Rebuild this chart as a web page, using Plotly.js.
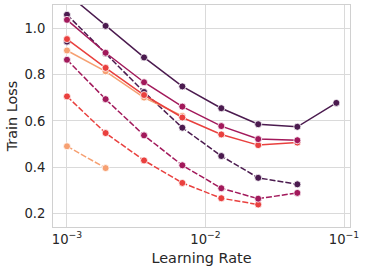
<!DOCTYPE html>
<html>
<head>
<meta charset="utf-8">
<script src="https://cdn.plot.ly/plotly-3.0.1.min.js"></script>
<style>html,body{margin:0;padding:0;background:#fff;}#chart{width:366px;height:272px;}</style>
</head>
<body>
<div id="chart"></div>
<script>
// learning rates
const lr = [0.001, 0.0019, 0.0036, 0.0068, 0.013, 0.024, 0.046, 0.088];

// solid-line series
const solidDark    = [1.15, 1.01, 0.874, 0.749, 0.655, 0.586, 0.575, 0.678];
const solidMagenta = [1.036, 0.894, 0.767, 0.662, 0.578, 0.522, 0.517];
const solidRed     = [0.953, 0.829, 0.712, 0.615, 0.542, 0.496, 0.507];
const solidPeach   = [0.904, 0.814, 0.701, 0.622];

// dashed-line series
const dashDark    = [1.058, 0.891, 0.725, 0.571, 0.449, 0.355, 0.327];
const dashMagenta = [0.864, 0.694, 0.538, 0.409, 0.31, 0.265, 0.29];
const dashRed     = [0.706, 0.548, 0.43, 0.333, 0.267, 0.24];
const dashPeach   = [0.491, 0.397];

// lone point at lowest learning rate
const extraDark = [0.942];

const cDark = '#4b1b4f', cMag = '#a2195b', cRed = '#e9403e', cPeach = '#f6a072';

function tr(y, color, dash) {
  return {
    x: lr.slice(0, y.length), y: y, type: 'scatter', mode: 'lines+markers',
    line: {color: color, width: 1.5, dash: dash},
    marker: {color: color, size: 7, line: {color: '#ffffff', width: 0.8}},
    showlegend: false, hoverinfo: 'skip'
  };
}

const data = [
  tr(extraDark, cDark, 'solid'),
  tr(dashPeach, cPeach, '6px,2px'),
  tr(dashRed, cRed, '6px,2px'),
  tr(dashMagenta, cMag, '6px,2px'),
  tr(dashDark, cDark, '6px,2px'),
  tr(solidPeach, cPeach, 'solid'),
  tr(solidRed, cRed, 'solid'),
  tr(solidMagenta, cMag, 'solid'),
  tr(solidDark, cDark, 'solid')
];

const layout = {
  width: 366, height: 272,
  margin: {l: 53, r: 16, t: 5, b: 45},
  paper_bgcolor: '#ffffff', plot_bgcolor: '#ffffff',
  font: {family: 'DejaVu Sans', size: 13, color: '#262626'},
  xaxis: {
    type: 'log', range: [-3.101, -0.957],
    tickvals: [0.001, 0.01, 0.1],
    ticktext: ['10<sup>−3</sup>', '10<sup>−2</sup>', '10<sup>−1</sup>'],
    showgrid: true, gridcolor: '#dadada', gridwidth: 1,
    showline: true, linecolor: '#d0d0d0', linewidth: 1, mirror: true,
    ticks: '', zeroline: false, ticklen: 0,
    tickfont: {size: 13.2, color: '#262626'},
    title: {text: 'Learning Rate', font: {size: 14.4, color: '#262626'}, standoff: 7}
  },
  yaxis: {
    range: [0.143, 1.1],
    tickvals: [0.2, 0.4, 0.6, 0.8, 1.0],
    ticktext: ['0.2', '0.4', '0.6', '0.8', '1.0'],
    showgrid: true, gridcolor: '#dadada', gridwidth: 1,
    showline: true, linecolor: '#d0d0d0', linewidth: 1, mirror: true,
    ticks: '', zeroline: false, ticklabelstandoff: 4,
    tickfont: {size: 13.2, color: '#262626'},
    title: {text: 'Train Loss', font: {size: 14.4, color: '#262626'}, standoff: 3}
  }
};

Plotly.newPlot('chart', data, layout, {staticPlot: true, displayModeBar: false});
</script>
</body>
</html>
